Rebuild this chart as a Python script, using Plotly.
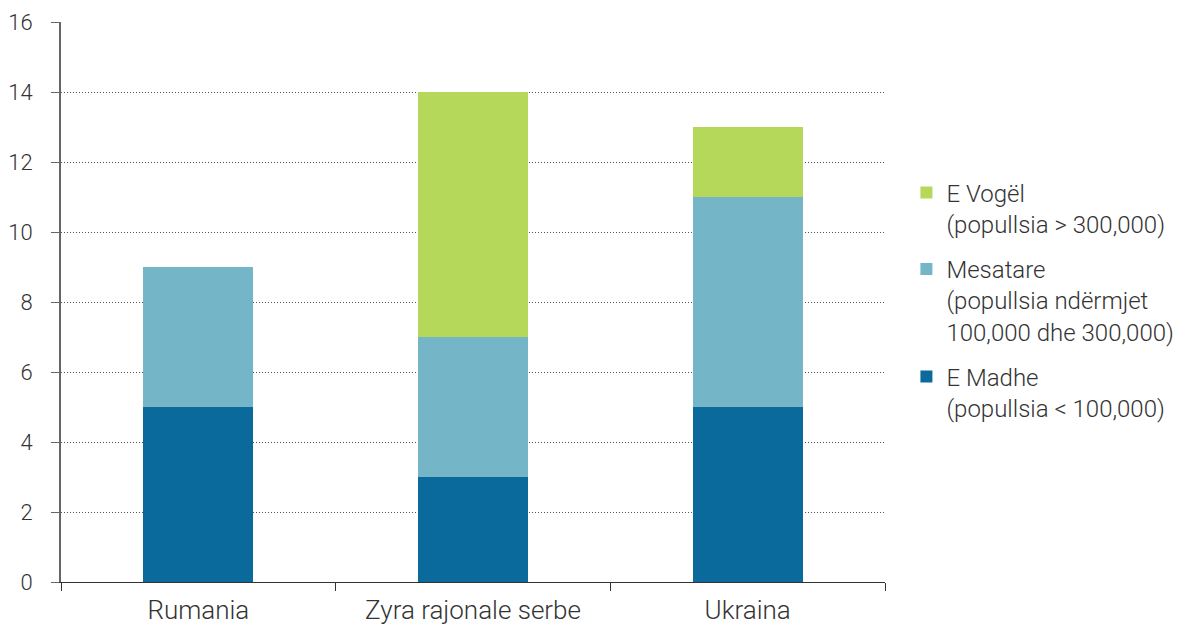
import plotly.graph_objects as go

categories = ["Rumania", "Zyra rajonale serbe", "Ukraina"]
e_madhe = [5, 3, 5]
mesatare = [4, 4, 6]
e_vogel = [0, 7, 2]
names = ["E Madhe<br>(popullsia < 100,000)",
         "Mesatare<br>(popullsia ndërmjet<br>100,000 dhe 300,000)",
         "E Vogël<br>(popullsia > 300,000)"]
colors = ["#0B6A9C", "#74B5C8", "#B5D85A"]
y_ticks = [0, 2, 4, 6, 8, 10, 12, 14, 16]

fig = go.Figure()
for i, (vals, nm, col) in enumerate(zip([e_madhe, mesatare, e_vogel], names, colors)):
    fig.add_trace(go.Bar(x=categories, y=vals, name=nm, marker=dict(color=col, line=dict(width=0)),
                         legendgroup=f"g{i}", legendrank=3 - i, width=0.4))

xfont = dict(family="Roboto", size=26, color="#333333", weight=300)
yfont = dict(family="Roboto", size=22, color="#333333", weight=300)
lfont = dict(family="Roboto", size=24, color="#333333", weight=300)
fig.update_layout(
    barmode="stack",
    width=1175, height=618,
    margin=dict(l=53, r=298, t=14, b=44, autoexpand=False),
    paper_bgcolor="white", plot_bgcolor="white",
    font=lfont,
    showlegend=True,
    legend=dict(x=1.026, y=0.735, xanchor="left", yanchor="top", traceorder="grouped",
                tracegroupgap=11, font=lfont, itemwidth=30, valign="top"),
    xaxis=dict(showline=True, linecolor="#333333", linewidth=1, ticks="outside", tickson="boundaries",
               ticklen=8, tickcolor="#333333", showgrid=False, tickfont=xfont, automargin=False,
               ticklabelstandoff=5, ticklabeloverflow="allow"),
    yaxis=dict(range=[0, 16], tickvals=y_ticks, showline=True, linecolor="#666666", linewidth=2,
               ticks="outside", ticklen=8, tickcolor="#666666", showgrid=True, gridcolor="#555555",
               griddash="1px,2px", gridwidth=1, zeroline=False, tickfont=yfont, ticklabelstandoff=14,
               automargin=False, ticklabeloverflow="allow"),
    bargap=0.6,
)
fig.write_html("out.html")
